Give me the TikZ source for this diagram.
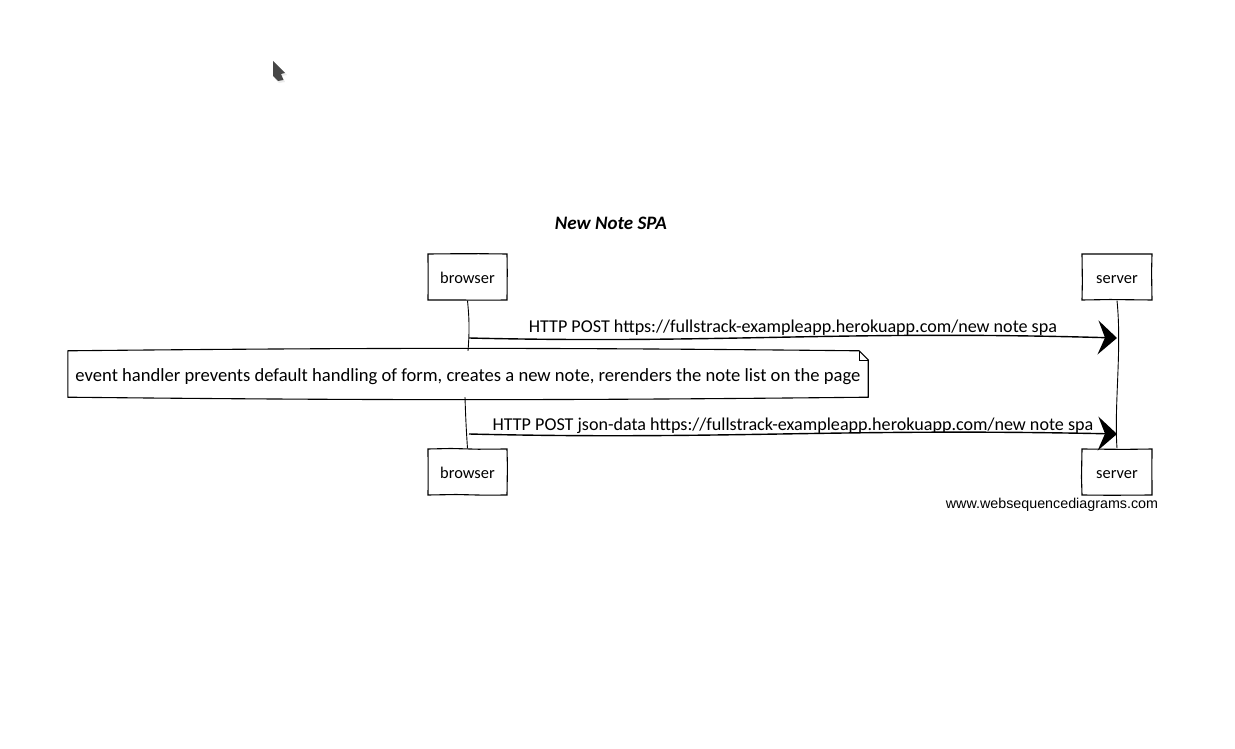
\documentclass[tikz,border=0pt]{standalone}
\usepackage{fontspec}
\setmainfont{Carlito}
\newfontfamily\markfont{Liberation Sans}
\usetikzlibrary{arrows.meta, decorations.pathmorphing, positioning, calc}
\tikzset{
    lifebox/.style={draw, line width=1.1pt, fill=white, minimum width=#1, minimum height=46pt, inner sep=0pt,
        text height=13pt, text depth=0pt,
        font=\fontsize{16.4}{18}\selectfont,
        decorate, decoration={random steps, segment length=28pt, amplitude=0.6pt}},
    notebox/.style={minimum width=800pt, minimum height=46pt, inner sep=0pt,
        text height=15pt, text depth=0pt,
        font=\fontsize{18.6}{20}\selectfont},
    msg/.style={font=\fontsize{18.1}{20}\selectfont, inner sep=0pt},
    lifeline/.style={line width=0.9pt},
    callarrow/.style={line width=1.4pt, -{Stealth[length=19pt, width=34pt, inset=7pt]}}
}
\begin{document}
\begin{tikzpicture}[x=1pt, y=-1pt]
    \pgfmathsetseed{11}
    \useasboundingbox (0,0) rectangle (1235,749);

    % pointer left in the screenshot
    \fill[black!8] (274,62) -- (287,75) -- (282,76) -- (285,82) -- (279,83) -- (275,79) -- cycle;
    \fill[black!72] (273,61) -- (285,73) -- (281,74) -- (283.5,80) -- (278,81) -- (273,76) -- cycle;

    % title
    \node[font=\fontsize{19}{22}\selectfont\bfseries\itshape, inner sep=0pt] (title) at (611,223) {New Note SPA};

    % participants, top and bottom
    \node[lifebox=79pt] (browserTop) at (467.5,277) {browser};
    \node[lifebox=70pt] (serverTop) at (1117,277) {server};
    \node[lifebox=79pt] (browserEnd) at (467.5,472) {browser};
    \node[lifebox=70pt] (serverEnd) at (1117,472) {server};

    % note over browser
    \node[notebox] (note) at (468,374) {event handler prevents default handling of form, creates a new note, rerenders the note list on the page};
    \coordinate (noteFoldTop) at ($(note.north east)+(-9pt,0)$);
    \coordinate (noteFoldSide) at ($(note.north east)+(0,-9pt)$);
    \coordinate (noteFoldIn) at ($(note.north east)+(-9pt,-9pt)$);
    \draw[line width=1.1pt] (note.north west) to[bend left=0.6] (noteFoldTop) -- (noteFoldSide) -- (note.south east)
        to[bend left=0.6] (note.south west) -- cycle;
    \draw (noteFoldTop) -- (noteFoldIn) -- (noteFoldSide);

    % lifelines
    \coordinate (browserNoteEnd) at ($(note.south)+(-3pt,0)$);
    \draw[lifeline] (browserTop.south) to[bend left=5] (note.north);
    \draw[lifeline] (browserNoteEnd) to[bend right=1] (browserEnd.north);
    \draw[lifeline] (serverTop.south) .. controls (1122,350) and (1114,405) .. (serverEnd.north);

    % messages
    \coordinate (callOneFrom) at (469,338);
    \coordinate (callOneTo) at (1117,338);
    \coordinate (callTwoFrom) at (469,434);
    \coordinate (callTwoTo) at (1117,434);
    \draw[callarrow] (callOneFrom) .. controls (720,344) and (840,330) .. (callOneTo);
    \draw[callarrow] (callTwoFrom) .. controls (720,440) and (840,428) .. (callTwoTo);
    \node[msg] (callOne) at (793,327.5) {HTTP POST https://fullstrack-exampleapp.herokuapp.com/new note spa};
    \node[msg] (callTwo) at (793,425.5) {HTTP POST json-data https://fullstrack-exampleapp.herokuapp.com/new note spa};

    % watermark
    \node[font=\markfont\fontsize{14.3}{16}\selectfont, inner sep=0pt] (mark) at (1052,505) {www.websequencediagrams.com};
\end{tikzpicture}
\end{document}
